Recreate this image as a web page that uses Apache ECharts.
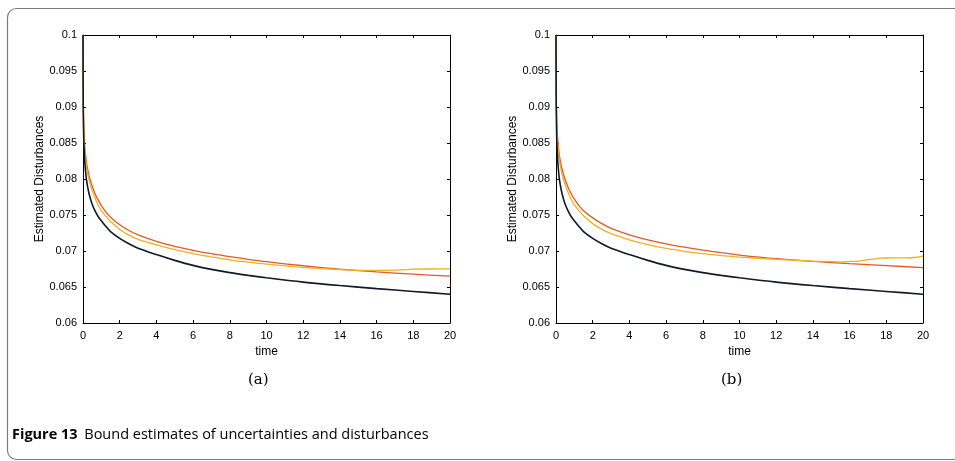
<!DOCTYPE html>
<html>
<head>
<meta charset="utf-8">
<script src="https://cdn.jsdelivr.net/npm/echarts@6/dist/echarts.min.js"></script>
<style>
html, body { margin: 0; padding: 0; background: #fff; }
#chart { width: 955px; height: 461px; }
</style>
</head>
<body>
<div id="chart"></div>
<script>
// time grid shared by the smooth curves
const tMain = [0, 0.01, 0.02, 0.04, 0.07, 0.1, 0.15, 0.2, 0.3, 0.4, 0.5, 0.65, 0.8, 1, 1.25, 1.5, 2, 2.5, 3,
  4, 5, 6, 7, 8, 9, 10, 12, 14, 16, 18, 20];
// the yellow curves have a few more points near the end where they wobble
const tYellowA = tMain.slice(0, 27).concat([14, 15, 16, 17, 17.6, 18, 19, 20]);
const tYellowB = tMain.slice(0, 27).concat([14, 15, 15.5, 16, 16.5, 17, 17.7, 18, 19, 19.5, 20]);

// panel (a)
const blackA = [0.1, 0.0915, 0.0885, 0.0856, 0.0836, 0.0823, 0.0808, 0.0797, 0.0783, 0.0773, 0.0765, 0.0756,
  0.0749, 0.0742, 0.0734, 0.0727, 0.07175, 0.0710, 0.07038, 0.0695, 0.0687, 0.0680, 0.06745, 0.0670, 0.06662,
  0.06628, 0.06568, 0.0652, 0.06478, 0.06438, 0.0640];
const redA = [0.1, 0.0925, 0.0898, 0.0872, 0.0855, 0.0844, 0.0831, 0.0821, 0.0808, 0.0798, 0.0790, 0.0780,
  0.0772, 0.0763, 0.0754, 0.0747, 0.07365, 0.07285, 0.07225, 0.07135, 0.07065, 0.0701, 0.06963, 0.06922,
  0.06885, 0.06852, 0.06795, 0.06748, 0.0671, 0.06678, 0.0665];
const yellowA = [0.1, 0.0922, 0.0894, 0.0868, 0.0850, 0.0839, 0.0825, 0.0815, 0.0802, 0.0792, 0.0784, 0.0774,
  0.0765, 0.0756, 0.0748, 0.0741, 0.0730, 0.0722, 0.0716, 0.07085, 0.0702, 0.06965, 0.06918, 0.06878, 0.06845,
  0.06817, 0.06772, 0.0674, 0.06732, 0.0673, 0.06733, 0.0674, 0.06748, 0.0675, 0.06752];

// panel (b)
const blackB = blackA.slice();
const redB = [0.1, 0.0935, 0.0908, 0.0882, 0.0864, 0.0853, 0.0840, 0.0830, 0.0817, 0.0807, 0.0799, 0.0789,
  0.0781, 0.0772, 0.0763, 0.0756, 0.0746, 0.0738, 0.07315, 0.07225, 0.07155, 0.0710, 0.07053, 0.07012,
  0.06976, 0.06944, 0.06893, 0.06855, 0.06824, 0.06796, 0.0677];
const yellowB = [0.1, 0.0930, 0.0903, 0.0876, 0.0858, 0.0847, 0.0833, 0.0823, 0.0810, 0.0800, 0.0792, 0.0782,
  0.0773, 0.0764, 0.0756, 0.0749, 0.0738, 0.0730, 0.0724, 0.07155, 0.07088, 0.07035, 0.06995, 0.06963, 0.06937,
  0.06916, 0.06884, 0.0686, 0.06852, 0.0685, 0.06855, 0.0686, 0.0688, 0.0690, 0.06903, 0.06905, 0.0691, 0.0693];

const panelLabels = ['(a)', '(b)'];
const yName = 'Estimated Disturbances';
const xName = 'time';
const captionBold = 'Figure 13';
const captionText = 'Bound estimates of uncertainties and disturbances';

const pairs = (ts, vs) => ts.map((t, i) => [t, vs[i]]);
const font = '"Liberation Sans", Arial, sans-serif';

const grids = [
  { left: 83, top: 35, width: 367, height: 288 },
  { left: 556, top: 35, width: 367, height: 288 },
];

const xAxes = [];
const yAxes = [];
grids.forEach((g, i) => {
  // bottom axis with labels
  xAxes.push({
    gridIndex: i, type: 'value', min: 0, max: 20, interval: 2, position: 'bottom',
    name: xName, nameLocation: 'middle', nameGap: 22,
    nameTextStyle: { fontFamily: font, fontSize: 12, color: '#000' },
    axisLine: { onZero: false, lineStyle: { color: '#000', width: 1 } },
    axisTick: { inside: true, length: 3, lineStyle: { color: '#000' } },
    axisLabel: { fontFamily: font, fontSize: 11, color: '#000', margin: 7 },
    splitLine: { show: false },
  });
  // top mirror
  xAxes.push({
    gridIndex: i, type: 'value', min: 0, max: 20, interval: 2, position: 'top',
    axisLine: { onZero: false, lineStyle: { color: '#000', width: 1 } },
    axisTick: { inside: true, length: 3, lineStyle: { color: '#000' } },
    axisLabel: { show: false },
    splitLine: { show: false },
  });
  yAxes.push({
    gridIndex: i, type: 'value', min: 0.06, max: 0.1, interval: 0.005, position: 'left',
    name: yName, nameLocation: 'middle', nameGap: 37, nameRotate: 90,
    nameTextStyle: { fontFamily: font, fontSize: 12, color: '#000' },
    axisLine: { onZero: false, lineStyle: { color: '#000', width: 1 } },
    axisTick: { inside: true, length: 3, lineStyle: { color: '#000' } },
    axisLabel: {
      fontFamily: font, fontSize: 11, color: '#000', margin: 6,
      formatter: v => String(+v.toFixed(3)),
    },
    splitLine: { show: false },
  });
  yAxes.push({
    gridIndex: i, type: 'value', min: 0.06, max: 0.1, interval: 0.005, position: 'right',
    axisLine: { onZero: false, lineStyle: { color: '#000', width: 1 } },
    axisTick: { inside: true, length: 3, lineStyle: { color: '#000' } },
    axisLabel: { show: false },
    splitLine: { show: false },
  });
});

const line = (i, name, data, color, width) => ({
  name, type: 'line', xAxisIndex: i * 2, yAxisIndex: i * 2,
  data, showSymbol: false, smooth: 0.3, clip: true,
  lineStyle: { color, width }, animation: false,
});

const series = [
  line(0, 'red', pairs(tMain, redA), '#e2592a', 1.3),
  line(0, 'yellow', pairs(tYellowA, yellowA), '#f1b020', 1.3),
  line(0, 'black', pairs(tMain, blackA), '#0d1b2a', 1.6),
  line(1, 'red', pairs(tMain, redB), '#e2592a', 1.3),
  line(1, 'yellow', pairs(tYellowB, yellowB), '#f1b020', 1.3),
  line(1, 'black', pairs(tMain, blackB), '#0d1b2a', 1.6),
];

const chart = echarts.init(document.getElementById('chart'));
chart.setOption({
  backgroundColor: '#fff',
  animation: false,
  grid: grids,
  xAxis: xAxes,
  yAxis: yAxes,
  series,
  graphic: [
    {
      type: 'rect', silent: true,
      shape: { x: 7.5, y: 8.5, width: 1000, height: 451, r: 9 },
      style: { fill: 'none', stroke: '#7a7a7a', lineWidth: 1.2 },
    },
    {
      type: 'text', left: 248, top: 373,
      style: { text: panelLabels[0], font: '15px "DejaVu Serif", serif', fill: '#000' },
    },
    {
      type: 'text', left: 721, top: 373,
      style: { text: panelLabels[1], font: '15px "DejaVu Serif", serif', fill: '#000' },
    },
    {
      type: 'text', left: 12, top: 427,
      style: {
        text: '{b|' + captionBold + '}  {r|' + captionText + '}',
        rich: {
          b: { fontFamily: 'Open Sans', fontWeight: 'bold', fontSize: 14.5, fill: '#000' },
          r: { fontFamily: 'Open Sans', fontSize: 14.5, fill: '#000' },
        },
      },
    },
  ],
});
</script>
</body>
</html>
